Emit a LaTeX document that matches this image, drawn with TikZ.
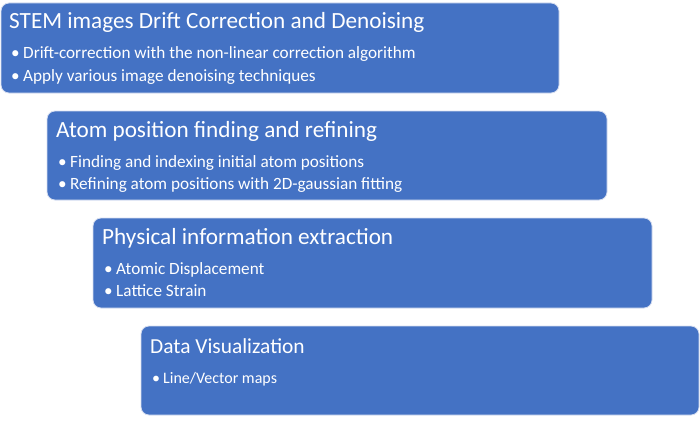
\documentclass[tikz,border=0pt]{standalone}
\usepackage{fontspec}
\setmainfont{Carlito}
\definecolor{boxblue}{HTML}{4472C4}
\definecolor{boxedge}{HTML}{D6DEF0}
\begin{document}
\begin{tikzpicture}[x=1pt,y=-1pt,
  panel/.style={draw=boxedge,line width=0.8pt,fill=boxblue,rounded corners=8pt},
  ttl/.style={anchor=base west,inner sep=0pt,text=white,font=\fontsize{23.2}{27}\selectfont},
  itm/.style={anchor=base west,inner sep=0pt,text=white,font=\fontsize{17.2}{20}\selectfont},
  ttlsm/.style={ttl,font=\fontsize{21.4}{25}\selectfont},
  itmsm/.style={itm,font=\fontsize{16}{19}\selectfont}]
\useasboundingbox (0,0) rectangle (700,420);
% box 1
\path[panel] (1,3) rectangle (559,93);
\node[ttl] (t1) at (9,29) {STEM images Drift Correction and Denoising};
\node[itm] (d11) at (11,59) {•};
\node[itm] (i11) at (23,59) {Drift-correction with the non-linear correction algorithm};
\node[itm] (d12) at (11,81) {•};
\node[itm] (i12) at (23,81) {Apply various image denoising techniques};
% box 2
\path[panel] (47,111) rectangle (607,200);
\node[ttl] (t2) at (56,137) {Atom position finding and refining};
\node[itm] (d21) at (58,167) {•};
\node[itm] (i21) at (70,167) {Finding and indexing initial atom positions};
\node[itm] (d22) at (58,189) {•};
\node[itm] (i22) at (70,189) {Refining atom positions with 2D-gaussian fitting};
% box 3
\path[panel] (93,218) rectangle (652,308);
\node[ttl] (t3) at (102,244) {Physical information extraction};
\node[itm] (d31) at (104,274) {•};
\node[itm] (i31) at (116,274) {Atomic Displacement};
\node[itm] (d32) at (104,296) {•};
\node[itm] (i32) at (116,296) {Lattice Strain};
% box 4
\path[panel] (141,326) rectangle (699,415);
\node[ttlsm] (t4) at (150,353) {Data Visualization};
\node[itmsm] (d41) at (152,383) {•};
\node[itmsm] (i41) at (163,383) {Line/Vector maps};
\end{tikzpicture}
\end{document}
